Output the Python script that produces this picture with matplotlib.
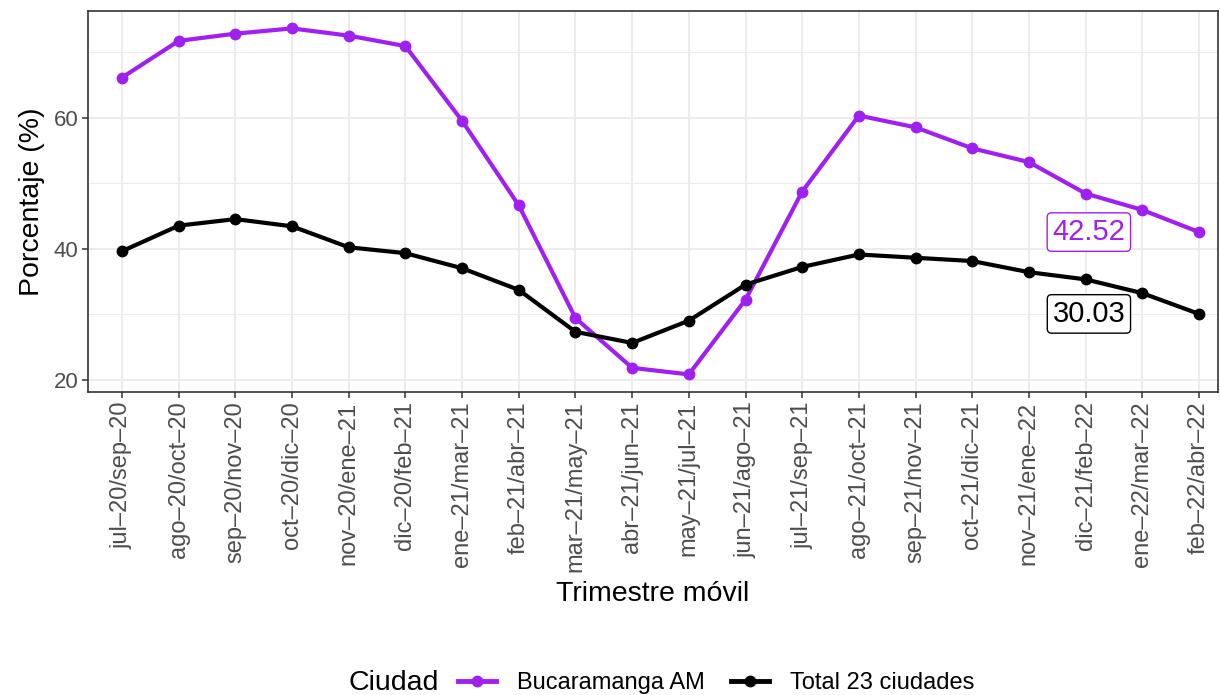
import matplotlib.pyplot as plt
from matplotlib.lines import Line2D
from matplotlib.offsetbox import HPacker

plt.rcParams['font.family'] = ['Liberation Sans', 'DejaVu Sans']

PURPLE = '#A020F0'
BLACK = '#000000'

trimestres = ['jul–20/sep–20', 'ago–20/oct–20', 'sep–20/nov–20', 'oct–20/dic–20',
              'nov–20/ene–21', 'dic–20/feb–21', 'ene–21/mar–21', 'feb–21/abr–21',
              'mar–21/may–21', 'abr–21/jun–21', 'may–21/jul–21', 'jun–21/ago–21',
              'jul–21/sep–21', 'ago–21/oct–21', 'sep–21/nov–21', 'oct–21/dic–21',
              'nov–21/ene–22', 'dic–21/feb–22', 'ene–22/mar–22', 'feb–22/abr–22']
bucaramanga = [66.1, 71.7, 72.8, 73.6, 72.5, 70.9, 59.5, 46.6, 29.4, 21.8,
               20.8, 32.2, 48.7, 60.3, 58.5, 55.3, 53.2, 48.4, 45.9, 42.52]
total_23 = [39.6, 43.5, 44.5, 43.4, 40.2, 39.3, 37.0, 33.7, 27.3, 25.6,
            29.0, 34.5, 37.2, 39.1, 38.6, 38.1, 36.4, 35.3, 33.2, 30.03]
series_names = ['Bucaramanga AM', 'Total 23 ciudades']


def main():
    fig = plt.figure(figsize=(12.2, 6.95), dpi=100)
    ax = fig.add_axes([0.0721, 0.4364, 0.926, 0.5476])

    x = list(range(len(trimestres)))
    for vals, color in [(bucaramanga, PURPLE), (total_23, BLACK)]:
        ax.plot(x, vals, color=color, linewidth=3, marker='o', markersize=7.5, zorder=3)
        last = vals[-1]
        ax.text(17.7, last, '%.2f' % last, color=color, fontsize=21, ha='right', va='center',
                zorder=5,
                bbox=dict(boxstyle='round,pad=0.18,rounding_size=0.15', fc='white', ec=color, lw=1))

    ax.set_xlim(-0.6, 19.33)
    ax.set_ylim(18.16, 76.24)
    ax.set_yticks([20, 40, 60])
    ax.set_yticks([30, 50, 70], minor=True)
    ax.set_xticks(x)
    ax.set_xticklabels(trimestres, rotation=90, fontsize=17, color='#4D4D4D')
    ax.tick_params(axis='y', which='major', labelsize=16, labelcolor='#4D4D4D',
                   length=4, width=1.1, color='#333333', pad=3)
    ax.tick_params(axis='y', which='minor', length=0)
    ax.tick_params(axis='x', length=4, width=1.1, color='#333333', pad=3)
    ax.grid(True, which='major', color='#EBEBEB', linewidth=1.3, zorder=0)
    ax.grid(True, which='minor', axis='y', color='#EBEBEB', linewidth=0.7, zorder=0)
    ax.set_axisbelow(True)
    for spine in ax.spines.values():
        spine.set_color('#333333')
        spine.set_linewidth(1.2)

    ax.set_ylabel('Porcentaje (%)', fontsize=20.5, labelpad=6)
    ax.set_xlabel('Trimestre móvil', fontsize=20.5, labelpad=6)

    handles = [Line2D([0], [0], color=PURPLE, lw=3.5, marker='o', markersize=7.5),
               Line2D([0], [0], color=BLACK, lw=3.5, marker='o', markersize=7.5)]
    leg = fig.legend(handles, series_names, loc='center', bbox_to_anchor=(0.542, 0.017),
                     ncol=2, frameon=False, fontsize=17, title='Ciudad',
                     title_fontsize=20.5, handlelength=1.6, columnspacing=1.1,
                     handletextpad=0.9)
    # put the legend title on the same row as the entries
    title_box = leg._legend_title_box
    handle_box = leg._legend_handle_box
    leg._legend_box._children = [HPacker(pad=0, sep=14, align='center',
                                         children=[title_box, handle_box])]

    fig.savefig('out.png', dpi=100)


if __name__ == '__main__':
    main()
